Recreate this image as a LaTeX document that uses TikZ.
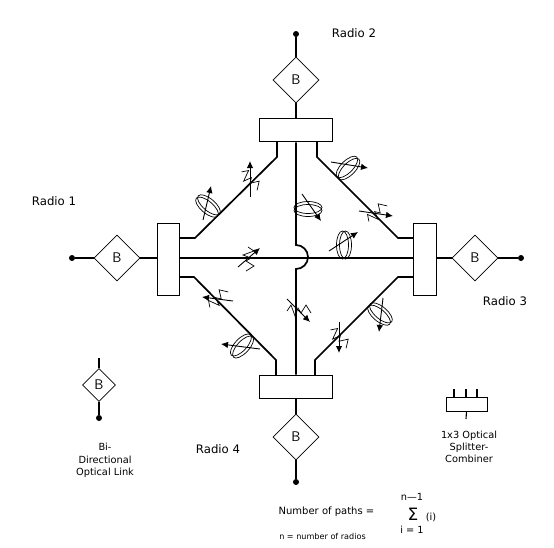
\documentclass[tikz,border=0pt]{standalone}
\usepackage{fontspec}
\setmainfont{DejaVu Sans}
\usetikzlibrary{arrows.meta,positioning,shapes.geometric}

\begin{document}
\begin{tikzpicture}[
  x=1pt,y=-1pt,
  font=\fontsize{11.7}{13}\selectfont,
  link/.style={draw,diamond,aspect=1,inner sep=0pt,line width=0.8pt,minimum width=46pt,minimum height=46pt,font=\fontsize{14}{16}\selectfont\sffamily},
  smalllink/.style={link,minimum width=33pt,minimum height=33pt},
  split/.style={draw,rectangle,inner sep=0pt,line width=1pt},
  fibre/.style={line width=1.7pt},
  dot/.style={circle,fill=black,inner sep=0pt,minimum size=6pt},
  thin fibre/.style={line width=0.7pt},
  ar/.style={-{Latex[length=7pt,width=6.5pt]},line width=0.9pt},
  lab/.style={align=center,font=\fontsize{9.8}{12.3}\selectfont}]

 \useasboundingbox (0,0) rectangle (554,547);

 % ---- radios ----
 \node[dot] (dot2) at (296,34) {};
 \node[link] (b2) at (296,80) {B};
 \node[split,minimum width=73pt,minimum height=23.5pt] (box2) at (296,130) {};
 \node[dot] (dot1) at (72,258) {};
 \node[link] (b1) at (117,258) {B};
 \node[split,minimum width=22pt,minimum height=72pt] (box1) at (168,259) {};
 \node[dot] (dot3) at (521,258) {};
 \node[link] (b3) at (475,258) {B};
 \node[split,minimum width=23pt,minimum height=72pt] (box3) at (424.5,259) {};
 \node[dot] (dot4) at (296,482) {};
 \node[link] (b4) at (296,437) {B};
 \node[split,minimum width=73pt,minimum height=23pt] (box4) at (296,386.5) {};

 \draw[fibre] (dot2) -- (b2);
 \draw[fibre] (b2) -- (box2);
 \draw[fibre] (dot1) -- (b1);
 \draw[fibre] (b1) -- (b1 -| box1.west);
 \draw[fibre] (dot3) -- (b3);
 \draw[fibre] (b3) -- (b3 -| box3.east);
 \draw[fibre] (dot4) -- (b4);
 \draw[fibre] (b4) -- (box4);

 % ---- paths ----
 \draw[fibre] (box1.east |- 0,258) -- (box3.west |- 0,258);
 \draw[fibre] (box2.south) -- (296,245) arc[start angle=90,end angle=-90,radius=12pt] -- (box4.north);
 \draw[fibre] (277,142) -- (277,157) -- (195,238) -- (179,238);
 \draw[fibre] (317,142) -- (317,157) -- (398,238) -- (413,238);
 \draw[fibre] (179,277) -- (194,277) -- (276,360) -- (276,375);
 \draw[fibre] (413,277) -- (398,277) -- (315,360) -- (315,375);

 % ---- polarisers ----
 \foreach \px/\py/\prot/\tx/\ty/\hx/\hy in {208/206/-40/203/220/211/186, 348/168/45/331/162/368/168,
   308/209/0/302/194/321/221, 344/245/90/329/251/358/232, 242/346/47/260/349/221/344, 380/314/-40/383/298/379/332}{
   \begin{scope}[shift={(\px,\py)},rotate=\prot]
     \draw[thin fibre] (0,1.5) ellipse[x radius=14pt,y radius=6pt];
     \draw[thin fibre] (0,-1.5) ellipse[x radius=14pt,y radius=6pt];
   \end{scope}
   \draw[ar] (\tx,\ty) -- (\hx,\hy);
 }

 % ---- attenuators ----
 \foreach \cx/\cy/\zrot/\tx/\ty/\hx/\hy in {250/179/-45/250/197/250/161, 376/213/45/359/211/393/216,
   249/258/-90/238/267/260/248, 217/299/45/233/301/202/297, 298/310/0/287/299/310/322, 339/337/-45/339/322/339/353}{
   \draw[thin fibre,rotate around={\zrot:(\cx,\cy)}] (\cx,\cy)
     ++(-11,1) -- ++(4,-6) -- ++(4,11) -- ++(3,-8) -- ++(3,5) -- ++(5,-8) -- ++(5,8);
   \draw[ar] (\tx,\ty) -- (\hx,\hy);
 }

 % ---- legend ----
 \node[smalllink] (leglink) at (99,385) {B};
 \node[dot] (legdot) at (99,418) {};
 \coordinate (legtop) at (99,358);
 \draw[fibre] (legtop) -- (leglink);
 \draw[fibre] (leglink) -- (legdot);
 \node[lab] (leglinktxt) at (105,460.5) {Bi-\\Directional\\Optical Link};

 \node[split,line width=0.9pt,minimum width=41pt,minimum height=14pt] (legbox) at (466.5,404) {};
 \foreach \sx in {454,466,477}{
   \coordinate (s\sx) at (\sx,389);
   \draw[line width=1.1pt] (s\sx) -- (\sx,397);
 }
 \coordinate (sb) at (466,419);
 \draw[line width=1.1pt] (legbox.south) -- (sb);
 \node[lab] (legsplittxt) at (469,447) {1x3 Optical\\Splitter-\\Combiner};

 % ---- labels ----
 \node (r1) at (54,201) {Radio 1};
 \node (r2) at (354,33) {Radio 2};
 \node (r3) at (505,301) {Radio 3};
 \node (r4) at (218,449) {Radio 4};

 \node[font=\fontsize{10}{11}\selectfont] (np) at (326.5,512) {Number of paths =};
 \node[font=\fontsize{8.1}{9}\selectfont] (nr) at (322.5,536) {n = number of radios};
 \node[font=\fontsize{9.8}{11}\selectfont] (nt) at (412,497) {n---1};
 \node[font=\fontsize{17}{18}\selectfont] (sg) at (413,514) {Σ};
 \node[font=\fontsize{9.8}{11}\selectfont] (si) at (431,517) {(i)};
 \node[font=\fontsize{9.8}{11}\selectfont] (ib) at (412,530) {i = 1};
\end{tikzpicture}
\end{document}
